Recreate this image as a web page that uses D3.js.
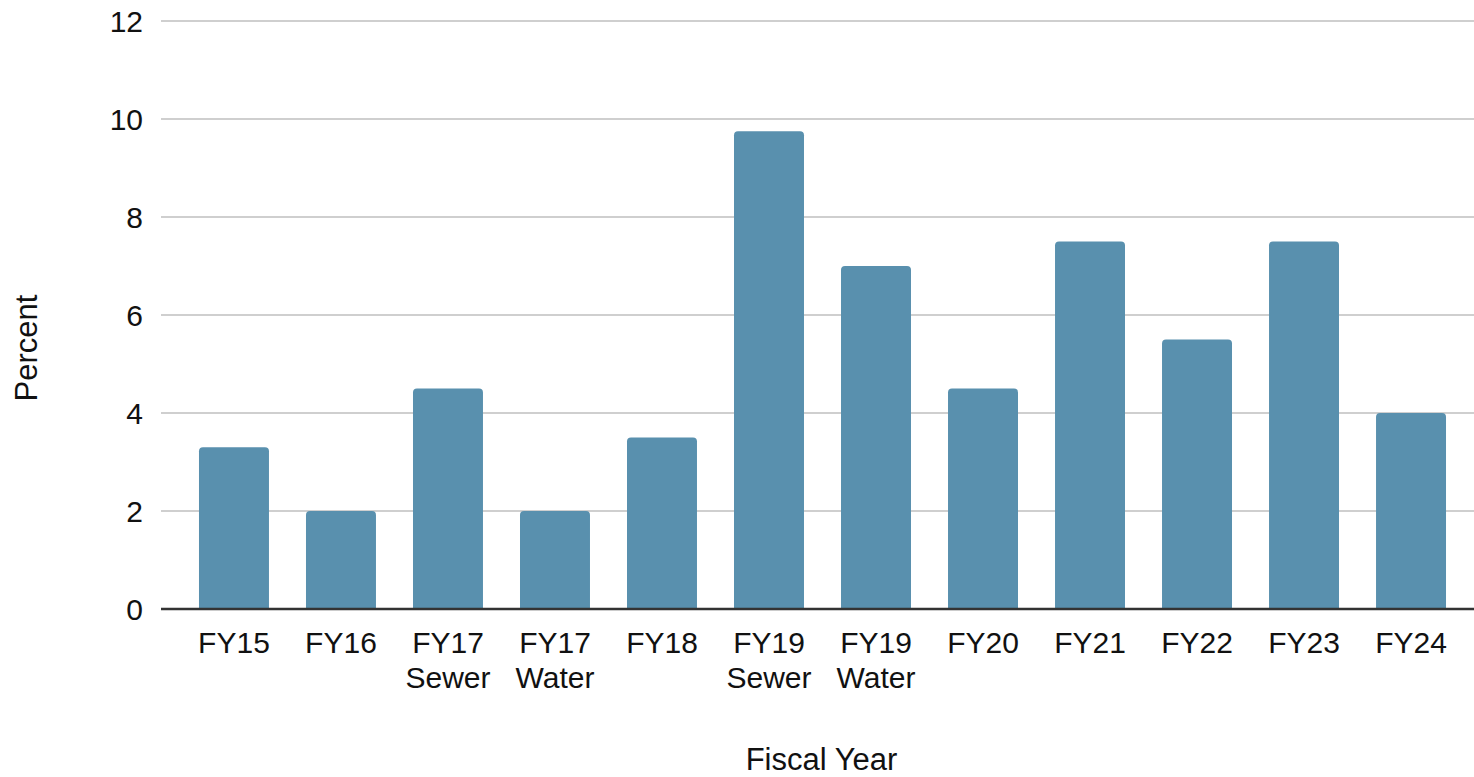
<!DOCTYPE html>
<html>
<head>
<meta charset="utf-8">
<script src="https://cdn.jsdelivr.net/npm/d3@7"></script>
<style>
  html, body { margin: 0; padding: 0; background: #fff; }
  svg { display: block; font-family: "Liberation Sans", Arial, sans-serif; }
</style>
</head>
<body>
<svg id="chart" width="1474" height="777"></svg>
<script>
// Rate increase by fiscal year (percent)
const categories = ["FY15", "FY16", "FY17 Sewer", "FY17 Water", "FY18", "FY19 Sewer",
                    "FY19 Water", "FY20", "FY21", "FY22", "FY23", "FY24"];
const percentValues = [3.3, 2.0, 4.5, 2.0, 3.5, 9.75, 7.0, 4.5, 7.5, 5.5, 7.5, 4.0];
const yTicks = [0, 2, 4, 6, 8, 10, 12];

const svg = d3.select("#chart");
const plotLeft = 161, plotRight = 1484, plotTop = 21, plotBottom = 609;
const barColor = "#5990ae";
const fontSize = 30;

const x = d3.scaleBand()
  .domain(categories)
  .range([plotLeft, plotRight])
  .paddingInner(0.346)
  .paddingOuter(0.355);

const y = d3.scaleLinear()
  .domain([0, 12])
  .range([plotBottom, plotTop]);

// Horizontal gridlines
svg.append("g")
  .selectAll("line")
  .data(yTicks.filter(t => t !== 0))
  .join("line")
  .attr("x1", plotLeft)
  .attr("x2", plotRight)
  .attr("y1", d => y(d))
  .attr("y2", d => y(d))
  .attr("stroke", "#cfcfcf")
  .attr("stroke-width", 2);

// Y tick labels
svg.append("g")
  .selectAll("text")
  .data(yTicks)
  .join("text")
  .attr("x", 143)
  .attr("y", d => y(d))
  .attr("dy", "0.36em")
  .attr("text-anchor", "end")
  .attr("font-size", fontSize)
  .attr("fill", "#111")
  .text(d => d);

// Bars with rounded top corners
const r = 4;
function barPath(d, i) {
  const x0 = x(d), w = x.bandwidth();
  const yTop = y(percentValues[i]), yBase = y(0);
  return `M${x0},${yBase}V${yTop + r}Q${x0},${yTop} ${x0 + r},${yTop}` +
         `H${x0 + w - r}Q${x0 + w},${yTop} ${x0 + w},${yTop + r}V${yBase}Z`;
}
svg.append("g")
  .selectAll("path")
  .data(categories)
  .join("path")
  .attr("d", barPath)
  .attr("fill", barColor);

// Baseline
svg.append("line")
  .attr("x1", plotLeft)
  .attr("x2", plotRight)
  .attr("y1", y(0))
  .attr("y2", y(0))
  .attr("stroke", "#333")
  .attr("stroke-width", 2.5);

// X tick labels (two lines where needed)
const xLabels = svg.append("g")
  .selectAll("text")
  .data(categories)
  .join("text")
  .attr("x", d => x(d) + x.bandwidth() / 2)
  .attr("y", 653)
  .attr("text-anchor", "middle")
  .attr("font-size", fontSize)
  .attr("fill", "#111");
xLabels.each(function(d) {
  const parts = d.split(" ");
  const t = d3.select(this);
  parts.forEach((p, k) => {
    t.append("tspan")
      .attr("x", x(d) + x.bandwidth() / 2)
      .attr("dy", k === 0 ? 0 : 35)
      .text(p);
  });
});

// Axis titles
svg.append("text")
  .attr("x", (plotLeft + 1474) / 2 + 4)
  .attr("y", 770)
  .attr("text-anchor", "middle")
  .attr("font-size", 31)
  .attr("fill", "#111")
  .text("Fiscal Year");

svg.append("text")
  .attr("transform", "translate(37,348) rotate(-90)")
  .attr("text-anchor", "middle")
  .attr("font-size", 31)
  .attr("fill", "#111")
  .text("Percent");
</script>
</body>
</html>
